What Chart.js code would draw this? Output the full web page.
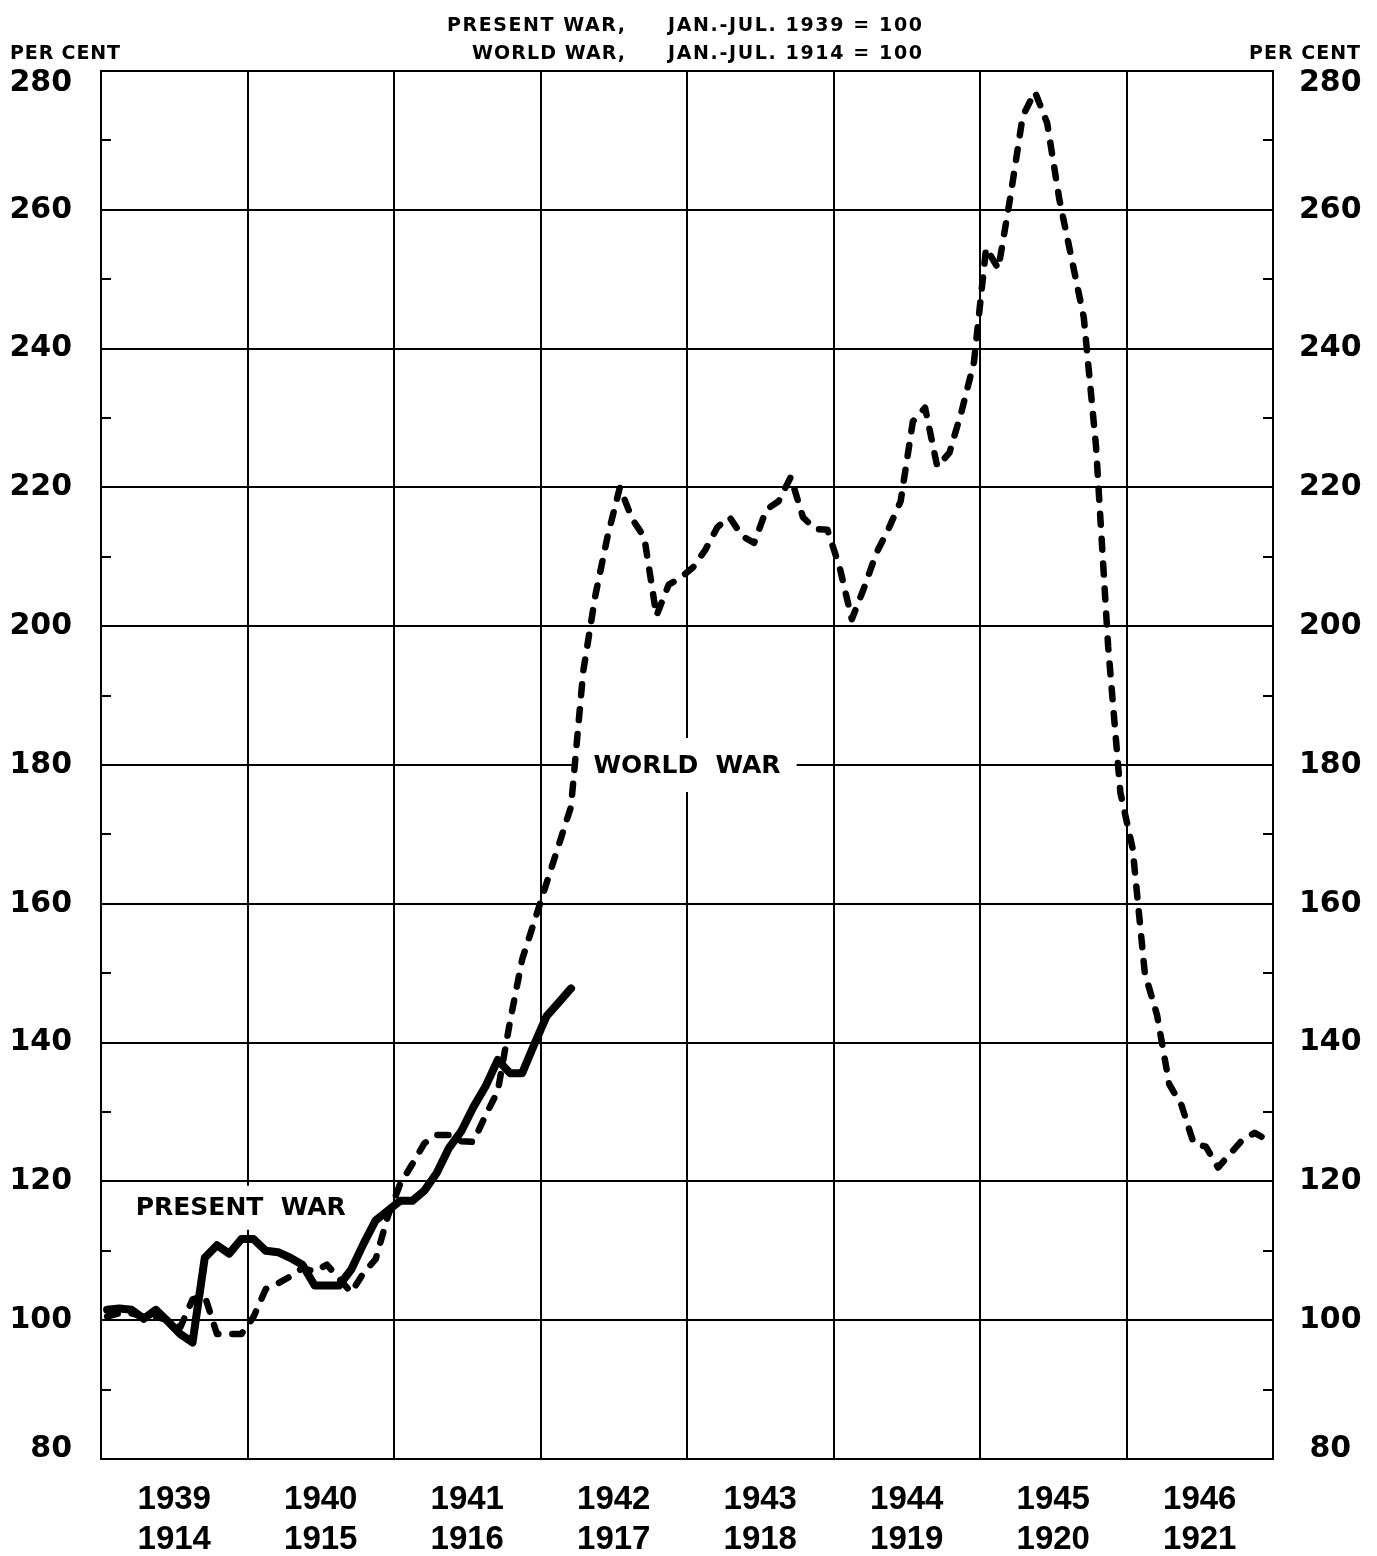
<!DOCTYPE html>
<html>
<head>
<meta charset="utf-8">
<script src="https://cdn.jsdelivr.net/npm/chart.js@4.4.1/dist/chart.umd.min.js"></script>
<style>
html,body{margin:0;padding:0;background:#fff;}
canvas{display:block;}
</style>
</head>
<body>
<canvas id="c" width="1377" height="1556" style="width:1377px;height:1556px"></canvas>
<script>
// ---- data ----
const presentYears = ['1939','1940','1941','1942','1943','1944','1945','1946'];
const worldWarYears = ['1914','1915','1916','1917','1918','1919','1920','1921'];

// Present war, monthly from Jan. 1939 (Jan.-Jul. 1939 = 100)
const presentWar = [
  101.5, 101.7, 101.5, 100.2, 101.5, 99.8, 98.0, 96.8, 109.0, 110.8, 109.6, 111.7,
  111.7, 110.0, 109.8, 109.0, 108.0, 105.0, 105.0, 105.0, 107.3, 111.0, 114.4, 115.8,
  117.2, 117.2, 118.7, 121.2, 124.8, 127.2, 130.7, 133.7, 137.5, 135.6, 135.6, 139.8,
  143.8, 145.8, 147.8
];

// World war, monthly from Jan. 1914 (Jan.-Jul. 1914 = 100)
const worldWar = [
  100.5, 101.0, 101.0, 100.5, 100.5, 100.0, 99.0, 103.0, 103.5, 98.0, 98.0, 98.0,
  100.5, 104.5, 105.3, 106.3, 107.5, 107.0, 108.0, 106.0, 104.0, 106.8, 108.8, 115.0,
  119.6, 122.5, 125.5, 126.7, 126.7, 125.8, 125.7, 129.5, 133.0, 143.0, 152.0, 157.5,
  163.0, 168.5, 174.0, 193.5, 204.5, 213.0, 220.0, 215.5, 212.8, 201.5, 206.0, 207.0,
  208.5, 211.0, 214.3, 215.7, 213.0, 212.0, 216.8, 218.0, 221.5, 215.7, 214.0, 213.9,
  208.5, 201.0, 205.5, 210.5, 214.0, 218.0, 229.5, 231.5, 223.0, 225.0, 231.0, 238.0,
  254.5, 251.5, 262.0, 273.5, 277.0, 272.5, 261.5, 253.0, 244.5, 226.0, 197.0, 176.0,
  168.0, 150.0, 144.0, 134.0, 131.0, 125.5, 125.0, 122.0, 124.0, 126.0, 127.0, 126.0
];

const toPoints = arr => arr.map((v, i) => ({ x: i + 0.5, y: v }));

// ---- styling helpers ----
const BLACK = '#000';
const TICK_FONT = 'DejaVu Sans';

function tickFont(ctx) {
  const v = ctx.tick ? ctx.tick.value : null;
  let lh = 1.2;
  if (v === 280) lh = '24px';
  if (v === 80) lh = '20px';
  return { family: TICK_FONT, size: 30, weight: 'bold', lineHeight: lh };
}
function tickLabel(value) {
  if (value === 280) return ['', String(value)];
  if (value === 80) return [String(value), ''];
  return String(value);
}

function drawFitted(ctx, text, x0, x1, yc) {
  ctx.save();
  ctx.letterSpacing = '0px';
  const w = ctx.measureText(text).width;
  const ls = (x1 - x0 - w) / (text.length - 1);
  ctx.letterSpacing = ls + 'px';
  ctx.textAlign = 'left';
  ctx.textBaseline = 'middle';
  ctx.fillText(text, x0, yc);
  ctx.restore();
}

const decor = {
  id: 'decor',
  beforeDraw(chart) {
    const c = chart.ctx;
    c.save();
    c.fillStyle = '#fff';
    c.fillRect(0, 0, chart.width, chart.height);
    c.restore();
  },
  beforeDatasetsDraw(chart) {
    const c = chart.ctx;
    const xs = chart.scales.x, ys = chart.scales.y;
    const a = chart.chartArea;
    // minor tick marks inside the frame
    c.save();
    c.strokeStyle = BLACK;
    c.lineWidth = 2;
    for (let v = 90; v < 280; v += 20) {
      const py = Math.round(ys.getPixelForValue(v)) + 0.0;
      c.beginPath();
      c.moveTo(a.left, py); c.lineTo(a.left + 10, py);
      c.moveTo(a.right - 10, py); c.lineTo(a.right, py);
      c.stroke();
    }
    c.restore();
    // series labels with white backing
    const labels = [
      { text: 'PRESENT  WAR', mx: 11.45, vy: 116.2, padX: 12, h: 44 },
      { text: 'WORLD  WAR', mx: 48, vy: 180, padX: 16, h: 54 }
    ];
    c.save();
    c.font = 'bold 25px "DejaVu Sans"';
    c.textAlign = 'center';
    c.textBaseline = 'middle';
    for (const l of labels) {
      const px = xs.getPixelForValue(l.mx), py = ys.getPixelForValue(l.vy);
      const w = c.measureText(l.text).width;
      c.fillStyle = '#fff';
      c.fillRect(px - w / 2 - l.padX, py - l.h / 2, w + 2 * l.padX, l.h);
      c.fillStyle = BLACK;
      c.fillText(l.text, px, py + 1);
    }
    c.restore();
  },
  afterDraw(chart) {
    const c = chart.ctx;
    c.save();
    c.fillStyle = BLACK;
    c.font = 'bold 19px "DejaVu Sans"';
    drawFitted(c, 'PRESENT WAR,', 447, 625, 26);
    drawFitted(c, 'JAN.-JUL. 1939 = 100', 668, 922, 26);
    drawFitted(c, 'WORLD WAR,', 472, 625, 54);
    drawFitted(c, 'JAN.-JUL. 1914 = 100', 668, 922, 54);
    drawFitted(c, 'PER CENT', 10, 120, 54);
    drawFitted(c, 'PER CENT', 1249, 1360, 54);
    c.restore();
  }
};

Chart.defaults.font.family = TICK_FONT;
Chart.defaults.color = BLACK;

new Chart(document.getElementById('c'), {
  type: 'line',
  data: {
    datasets: [
      {
        label: 'Present War',
        data: toPoints(presentWar),
        borderColor: BLACK,
        borderWidth: 8,
        borderCapStyle: 'round',
        borderJoinStyle: 'round',
        pointRadius: 0,
        tension: 0,
        fill: false
      },
      {
        label: 'World War',
        data: toPoints(worldWar),
        borderColor: BLACK,
        borderWidth: 6.5,
        borderDash: [11, 14],
        borderCapStyle: 'round',
        borderJoinStyle: 'round',
        pointRadius: 0,
        tension: 0,
        fill: false
      }
    ]
  },
  options: {
    responsive: false,
    devicePixelRatio: 1,
    animation: false,
    events: [],
    layout: { padding: { top: 71, left: 0, right: 0, bottom: 0 } },
    plugins: { legend: { display: false }, tooltip: { enabled: false }, title: { display: false } },
    scales: {
      x: {
        type: 'linear',
        min: 0,
        max: 96,
        afterFit(s) { s.height = 97; },
        grid: {
          color: ctx => (ctx.tick && ctx.tick.value % 12 === 0) ? BLACK : 'rgba(0,0,0,0)',
          lineWidth: 2,
          drawTicks: false
        },
        border: { display: true, color: BLACK, width: 2 },
        ticks: {
          stepSize: 6,
          autoSkip: false,
          maxRotation: 0,
          minRotation: 0,
          padding: 21,
          font: { family: 'Liberation Sans', size: 33, weight: 'bold', lineHeight: '40px' },
          color: BLACK,
          callback: value => {
            const k = Math.floor(value / 12);
            return value % 12 === 6 ? [presentYears[k], worldWarYears[k]] : '';
          }
        }
      },
      y: {
        type: 'linear',
        position: 'left',
        min: 80,
        max: 280,
        afterFit(s) { s.width = 101; },
        grid: { color: BLACK, lineWidth: 2, drawTicks: false },
        border: { display: true, color: BLACK, width: 2 },
        ticks: {
          stepSize: 20,
          padding: 29,
          color: BLACK,
          font: tickFont,
          callback: tickLabel
        }
      },
      y2: {
        type: 'linear',
        position: 'right',
        min: 80,
        max: 280,
        afterFit(s) { s.width = 104; },
        grid: { display: true, drawOnChartArea: false, drawTicks: false },
        border: { display: true, color: BLACK, width: 2 },
        ticks: {
          stepSize: 20,
          padding: 26,
          crossAlign: 'center',
          color: BLACK,
          font: tickFont,
          callback: tickLabel
        }
      }
    }
  },
  plugins: [decor]
});
</script>
</body>
</html>
